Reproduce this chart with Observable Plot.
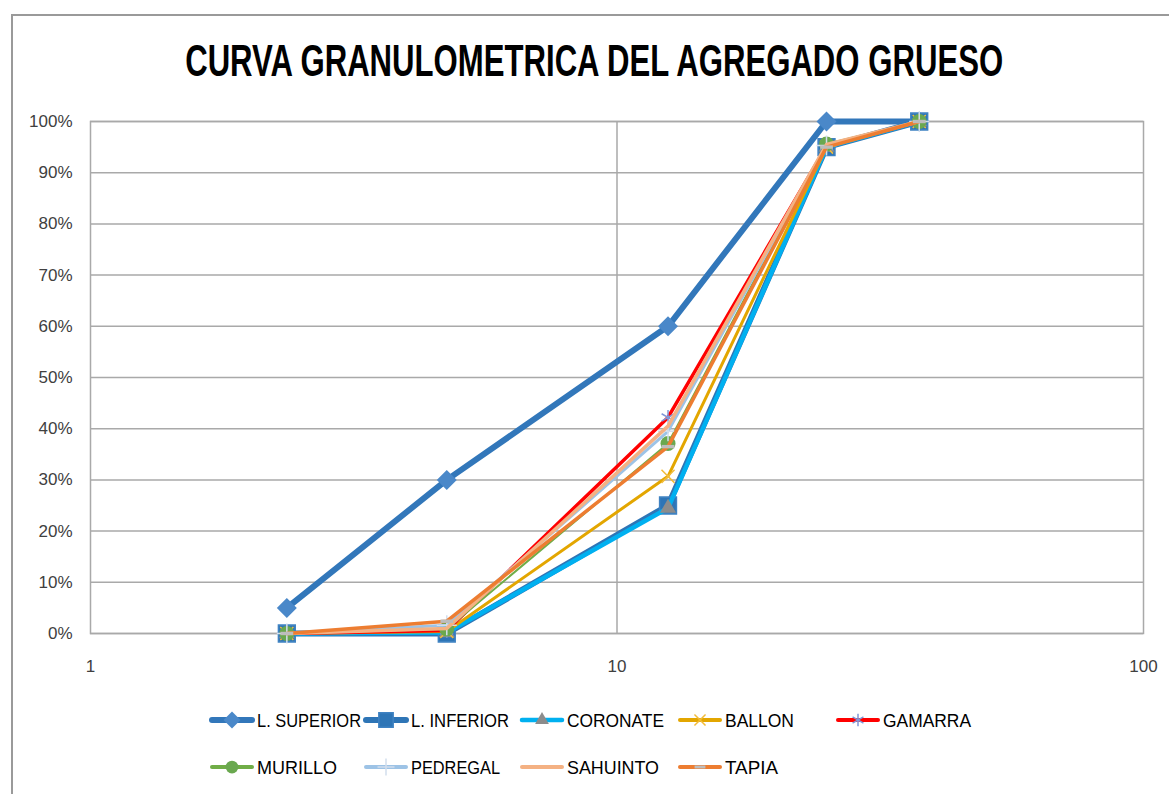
<!DOCTYPE html>
<html><head><meta charset="utf-8">
<script src="https://cdn.jsdelivr.net/npm/d3@7"></script>
<script src="https://cdn.jsdelivr.net/npm/@observablehq/plot@0.6"></script>
<style>
html,body{margin:0;padding:0;background:#fff;}
#wrap{position:relative;width:1169px;height:794px;overflow:hidden;font-family:"Liberation Sans",Arial,sans-serif;}
#border{position:absolute;left:11px;top:14px;width:1200px;height:900px;border:2px solid #9a9a9a;box-sizing:border-box;}
#title{position:absolute;left:0;top:36px;width:1188px;text-align:center;white-space:nowrap;line-height:50px;}
#title span{display:inline-block;font-weight:bold;font-size:44px;color:#000;transform-origin:50% 50%;}
#chart{position:absolute;left:0;top:100px;}
#legend{position:absolute;left:0;top:690px;}
</style></head><body>
<div id="wrap"><div id="border"></div><div id="title"><span id="tspan"></span></div><div id="chart"></div><svg id="legend" width="1169" height="104"></svg></div>
<script>
// ---- data ----
const sizes = [2.36, 4.75, 12.5, 25, 37.5];
const seriesNames = ["L. SUPERIOR","L. INFERIOR","CORONATE","BALLON","GAMARRA","MURILLO","PEDREGAL","SAHUINTO","TAPIA"];
const lSuperior = [0.05, 0.30, 0.60, 1.00, 1.00];
const lInferior = [0.00, 0.00, 0.25, 0.95, 1.00];
const coronate  = [0.00, 0.002, 0.245, 0.950, 1.00];
const ballon    = [0.00, 0.004, 0.307, 0.950, 1.00];
const gamarra   = [0.00, 0.006, 0.422, 0.952, 1.00];
const murillo   = [0.00, 0.009, 0.371, 0.956, 1.00];
const pedregal  = [0.00, 0.016, 0.395, 0.953, 1.00];
const sahuinto  = [0.00, 0.010, 0.405, 0.955, 1.00];
const tapia     = [0.00, 0.024, 0.365, 0.950, 1.00];
const seriesValues = [lSuperior, lInferior, coronate, ballon, gamarra, murillo, pedregal, sahuinto, tapia];
const xTicks = [1, 10, 100];
const yTicks = [0,0.1,0.2,0.3,0.4,0.5,0.6,0.7,0.8,0.9,1.0];
const titleText = "CURVA GRANULOMETRICA DEL AGREGADO GRUESO";

// ---- styles ----
const dash = {draw(ctx, size){ const s = Math.sqrt(size); ctx.rect(-s*0.6, -s*0.16, s*1.2, s*0.32); }};
const styles = {
  "L. SUPERIOR": {stroke:"#3277BA", width:6, symbol:"diamond2", r:9, fill:"#4A88C9", mstroke:"none"},
  "L. INFERIOR": {stroke:"#2E75B6", width:6, symbol:"square", r:9.5, fill:"#2E75B6", mstroke:"#3f82c2"},
  "CORONATE":    {stroke:"#00B0F0", width:4.5, symbol:"triangle", r:6, fill:"#8c8c8c", mstroke:"none"},
  "BALLON":      {stroke:"#E3A600", width:3, symbol:"times", r:6, fill:"none", mstroke:"#F2BC3A"},
  "GAMARRA":     {stroke:"#FF0000", width:3.5, symbol:"asterisk", r:7, fill:"none", mstroke:"#8098D8"},
  "MURILLO":     {stroke:"#70AD47", width:2, symbol:"circle", r:7.5, fill:"#6AA84F", mstroke:"none"},
  "PEDREGAL":    {stroke:"#9DC3E6", width:3, symbol:"plus", r:6.5, fill:"none", mstroke:"#d2deed"},
  "SAHUINTO":    {stroke:"#F4B183", width:3.5, symbol:null},
  "TAPIA":       {stroke:"#ED7D31", width:3.5, symbol:dash, r:6, fill:"#bdbdbd", mstroke:"none"}
};

const rows = seriesNames.flatMap((name, i) => sizes.map((s, j) => ({series: name, size: s, pct: seriesValues[i][j]})));

// ---- title ----
const tspan = document.getElementById("tspan");
tspan.textContent = titleText;
const natW = tspan.getBoundingClientRect().width;
tspan.style.transform = `scaleX(${(818 / natW).toFixed(4)})`;

// ---- chart ----
const marks = [
  Plot.gridY(yTicks, {stroke:"#a9a9a9", strokeOpacity:1, strokeWidth:1.5}),
  Plot.gridX([10], {stroke:"#a9a9a9", strokeOpacity:1, strokeWidth:1.5}),
  Plot.frame({stroke:"#a9a9a9", strokeWidth:1.5}),
  Plot.axisY(yTicks, {tickSize:0, tickPadding:18, tickFormat: d3.format(".0%"), fontSize:17, label:null}),
  Plot.axisX(xTicks, {tickSize:0, tickPadding:26, tickFormat: d => String(d), fontSize:17, label:null})
];
for (const name of seriesNames) {
  const st = styles[name];
  const data = rows.filter(d => d.series === name);
  marks.push(Plot.line(data, {x:"size", y:"pct", stroke: st.stroke, strokeWidth: st.width, strokeLinejoin:"round", strokeLinecap:"round"}));
  if (st.symbol) marks.push(Plot.dot(data, {x:"size", y:"pct", symbol: st.symbol, r: st.r, fill: st.fill, stroke: st.mstroke, strokeWidth: 1.5}));
}
const chart = Plot.plot({
  width: 1169, height: 580,
  marginLeft: 90, marginRight: 26, marginTop: 21, marginBottom: 47,
  x: {type:"log", domain:[1,100], axis:null},
  y: {domain:[0,1], axis:null},
  style: {fontFamily:"'Liberation Sans', Arial, sans-serif", fontSize:"17px", color:"#404040", background:"transparent"},
  marks
});
document.getElementById("chart").appendChild(chart);

// ---- legend ----
const lsvg = d3.select("#legend");
const colX = [212, 366, 522, 680, 838];
const rowY = [30, 77];
const textW = {"L. SUPERIOR":104,"L. INFERIOR":98,"CORONATE":97,"BALLON":69,"GAMARRA":88,"MURILLO":80,"PEDREGAL":89,"SAHUINTO":92,"TAPIA":53};
const symMap = {diamond2:d3.symbolDiamond2, square:d3.symbolSquare, triangle:d3.symbolTriangle, times:d3.symbolTimes, asterisk:d3.symbolAsterisk, circle:d3.symbolCircle, plus:d3.symbolPlus};
seriesNames.forEach((name, i) => {
  const st = styles[name];
  const x0 = colX[i < 5 ? i : i - 5], y0 = rowY[i < 5 ? 0 : 1];
  const g = lsvg.append("g");
  g.append("line").attr("x1", x0).attr("x2", x0 + 40).attr("y1", y0).attr("y2", y0)
    .attr("stroke", st.stroke).attr("stroke-width", Math.max(st.width, 4)).attr("stroke-linecap","round");
  if (st.symbol) {
    const type = typeof st.symbol === "string" ? symMap[st.symbol] : st.symbol;
    const rr = st.r * 0.85;
    g.append("path").attr("d", d3.symbol(type, rr * rr * Math.PI)())
      .attr("transform", `translate(${x0 + 20},${y0})`)
      .attr("fill", st.fill).attr("stroke", st.mstroke).attr("stroke-width", 1.5);
  }
  g.append("text").attr("x", x0 + 45).attr("y", y0 + 7).attr("font-size", 19)
    .attr("font-family","'Liberation Sans', Arial, sans-serif").attr("fill","#000")
    .attr("textLength", textW[name]).attr("lengthAdjust","spacingAndGlyphs").text(name);
});
</script>
</body></html>
